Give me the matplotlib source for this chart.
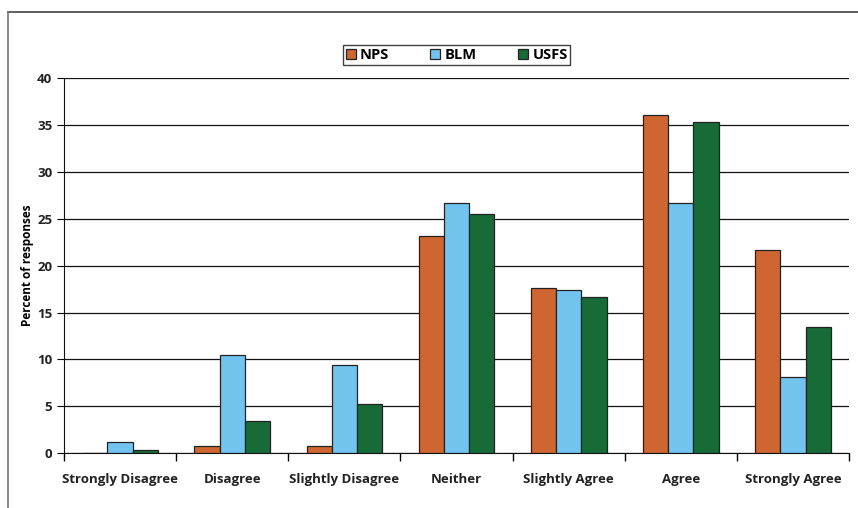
import numpy as np
import matplotlib.pyplot as plt
from matplotlib.lines import Line2D

categories = ['Strongly Disagree', 'Disagree', 'Slightly Disagree', 'Neither',
              'Slightly Agree', 'Agree', 'Strongly Agree']
nps = [0, 0.8, 0.8, 23.2, 17.6, 36.1, 21.7]
blm = [1.2, 10.5, 9.4, 26.7, 17.4, 26.7, 8.1]
usfs = [0.3, 3.4, 5.2, 25.5, 16.7, 35.3, 13.5]
series_names = ['NPS', 'BLM', 'USFS']
colors = ['#CF6530', '#72C4EE', '#166B37']

plt.rcParams['font.family'] = ['Open Sans', 'DejaVu Sans']
plt.rcParams['font.weight'] = 'bold'

fig = plt.figure(figsize=(8.58, 5.08), dpi=100)
ax = fig.add_axes([0.0746, 0.108, 0.915, 0.738])

x = np.arange(len(categories))
w = 0.225
for i, (vals, name, c) in enumerate(zip([nps, blm, usfs], series_names, colors)):
    ax.bar(x + (i - 1) * w, vals, w, color=c, edgecolor='#222222', linewidth=0.9,
           label=name, zorder=3)

ax.set_xlim(-0.5, len(categories) - 0.5)
ax.set_ylim(0, 40)
ax.set_yticks(range(0, 41, 5))
ax.yaxis.grid(True, color='#111111', linewidth=0.9, zorder=0)
ax.set_axisbelow(True)

ax.set_xticks(x)
ax.set_xticklabels(categories, fontsize=9.5, fontweight='bold', color='#222222')
ax.tick_params(axis='x', length=0, pad=14)
ax.set_xticks(np.arange(-0.5, len(categories), 1), minor=True)
ax.tick_params(axis='x', which='minor', length=6, direction='out', width=1)
ax.tick_params(axis='y', length=5, direction='out', labelsize=9.5, labelcolor='#222222')
for lbl in ax.get_yticklabels():
    lbl.set_fontweight('bold')

ax.spines['top'].set_visible(False)
ax.spines['right'].set_visible(False)
ax.spines['left'].set_color('#111111')
ax.spines['bottom'].set_color('#111111')

ax.set_ylabel('Percent of responses', fontsize=8.5, fontweight='bold', labelpad=2)

leg = ax.legend(loc='lower center', bbox_to_anchor=(0.5, 1.03), ncol=3, frameon=True,
                fancybox=False, edgecolor='#111111', fontsize=10.5, handlelength=0.7,
                handleheight=0.7, columnspacing=2.8, handletextpad=0.3,
                borderpad=0.2, borderaxespad=0, )
leg.get_frame().set_linewidth(1.0)
leg.set_bbox_to_anchor((0.5, 1.035))

# partial border around the figure (top and left edges only)
fig.lines.append(Line2D([0.009, 1.0], [0.976, 0.976], transform=fig.transFigure,
                        color='#444444', linewidth=1.2))
fig.lines.append(Line2D([0.009, 0.009], [0.0, 0.976], transform=fig.transFigure,
                        color='#777777', linewidth=1.2))

fig.savefig('out.png', dpi=100)
